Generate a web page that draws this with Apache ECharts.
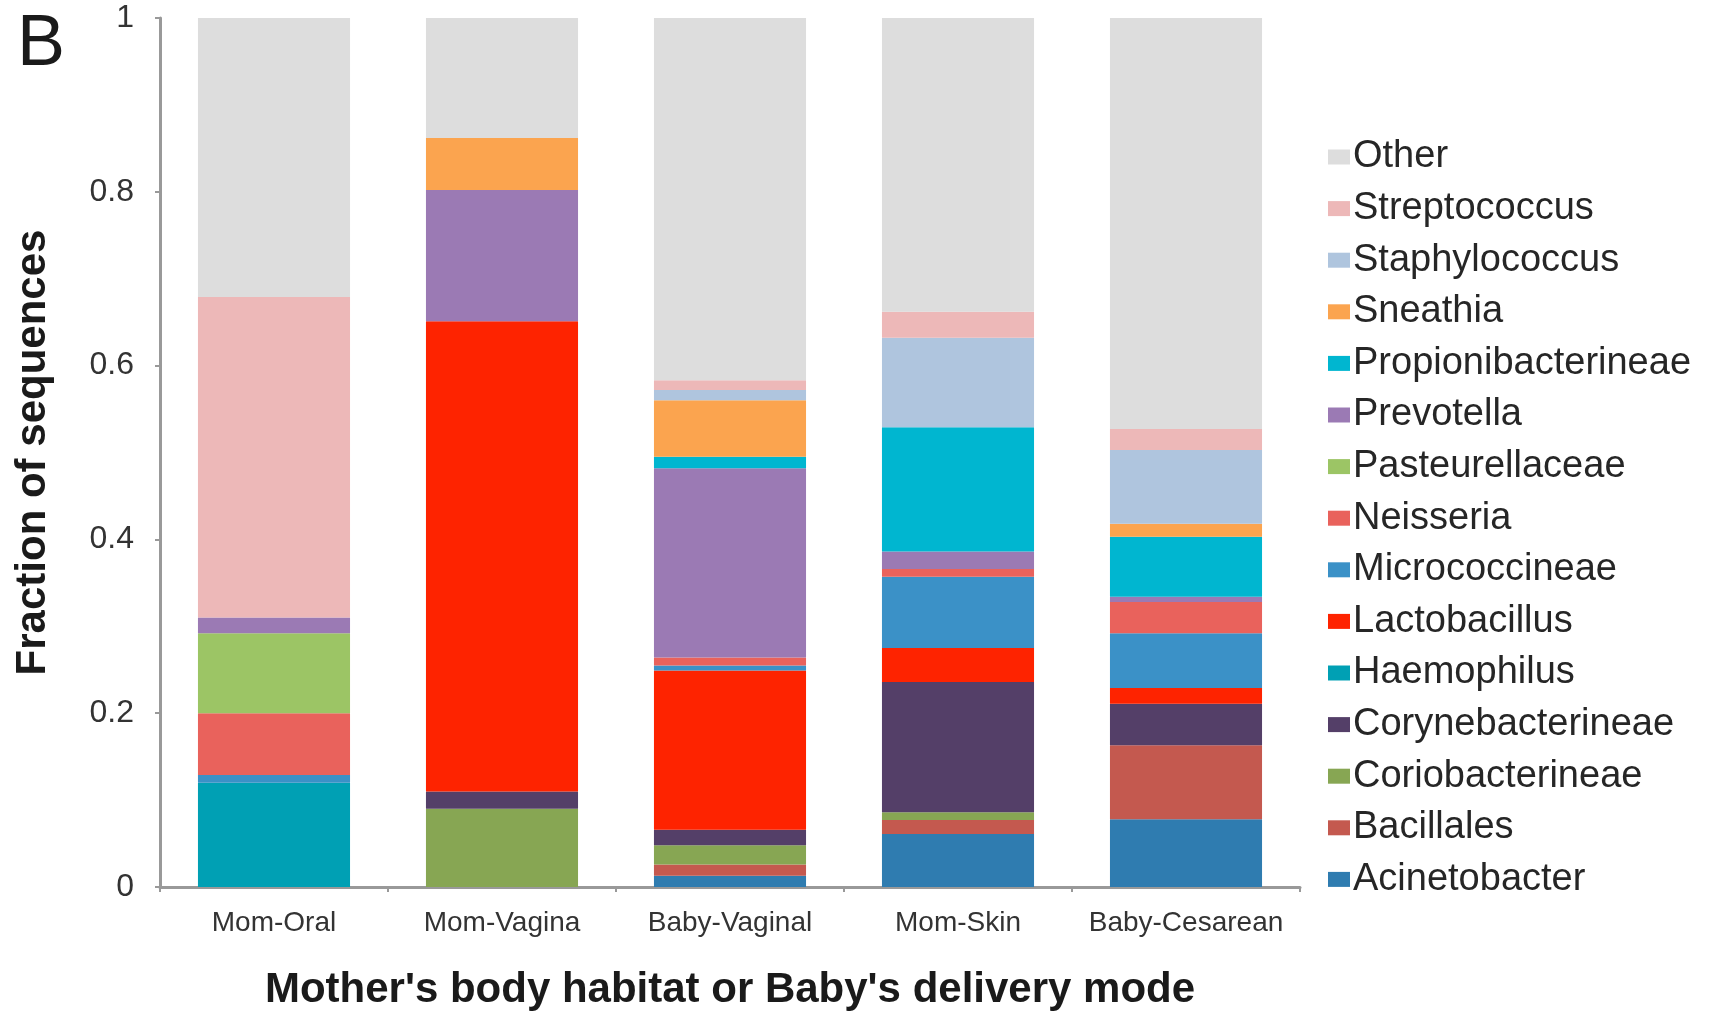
<!DOCTYPE html>
<html>
<head>
<meta charset="utf-8">
<script src="https://cdn.jsdelivr.net/npm/echarts@6/dist/echarts.min.js"></script>
<style>
  html, body { margin: 0; padding: 0; background: #fff; }
  #chart { width: 1713px; height: 1013px; }
</style>
</head>
<body>
<div id="chart"></div>
<script>
// habitats / delivery modes along x
const categories = ['Mom-Oral', 'Mom-Vagina', 'Baby-Vaginal', 'Mom-Skin', 'Baby-Cesarean'];

// fraction of sequences per taxon, one value per category
const acinetobacter = [0, 0, 0.013, 0.061, 0.078];
const bacillales = [0, 0, 0.013, 0.016, 0.085];
const coriobacterineae = [0, 0.090, 0.022, 0.009, 0];
const corynebacterineae = [0, 0.020, 0.018, 0.150, 0.048];
const haemophilus = [0.120, 0, 0, 0, 0];
const lactobacillus = [0, 0.541, 0.183, 0.039, 0.018];
const micrococcineae = [0.009, 0, 0.006, 0.082, 0.063];
const neisseria = [0.071, 0, 0.009, 0.009, 0.036];
const pasteurellaceae = [0.092, 0, 0, 0, 0];
const prevotella = [0.018, 0.151, 0.218, 0.020, 0.006];
const propionibacterineae = [0, 0, 0.013, 0.143, 0.069];
const sneathia = [0, 0.060, 0.065, 0, 0.015];
const staphylococcus = [0, 0, 0.012, 0.103, 0.085];
const streptococcus = [0.369, 0, 0.011, 0.030, 0.024];
const other = [0.321, 0.138, 0.417, 0.338, 0.473];

// stacked bottom -> top
const taxa = [
    ['Acinetobacter', acinetobacter, '#2f7cb0'],
    ['Bacillales', bacillales, '#c4594f'],
    ['Coriobacterineae', coriobacterineae, '#87a653'],
    ['Corynebacterineae', corynebacterineae, '#543f68'],
    ['Haemophilus', haemophilus, '#00a0b4'],
    ['Lactobacillus', lactobacillus, '#fe2300'],
    ['Micrococcineae', micrococcineae, '#3b91c7'],
    ['Neisseria', neisseria, '#e9625c'],
    ['Pasteurellaceae', pasteurellaceae, '#9cc565'],
    ['Prevotella', prevotella, '#9b7ab4'],
    ['Propionibacterineae', propionibacterineae, '#00b6d0'],
    ['Sneathia', sneathia, '#fba44f'],
    ['Staphylococcus', staphylococcus, '#afc5de'],
    ['Streptococcus', streptococcus, '#edb8b8'],
    ['Other', other, '#dddddd'],
];

const font = 'Liberation Sans, Arial, sans-serif';
const chart = echarts.init(document.getElementById('chart'));

chart.setOption({
    animation: false,
    title: {
        text: 'B',
        left: 12,
        top: 4,
        textStyle: { fontSize: 72, fontWeight: 'normal', color: '#1a1a1a', fontFamily: font }
    },
    legend: {
        orient: 'vertical',
        left: 1323,
        top: 131,
        itemWidth: 22,
        itemHeight: 15,
        itemGap: 9.6,
        icon: 'rect',
        data: taxa.map(t => t[0]).reverse(),
        textStyle: { fontSize: 38, lineHeight: 42, color: '#262626', fontFamily: font, padding: [0, 0, 0, -2] }
    },
    grid: {
        left: 160,
        right: 413,
        top: 18,
        bottom: 126,
        outerBoundsMode: 'none'
    },
    xAxis: {
        type: 'category',
        data: categories,
        name: "Mother's body habitat or Baby's delivery mode",
        nameLocation: 'middle',
        nameGap: 82,
        nameTextStyle: { fontSize: 42, fontWeight: 'bold', color: '#1a1a1a', fontFamily: font },
        axisLine: { lineStyle: { color: '#999', width: 3 } },
        axisTick: { show: true, length: 5, lineStyle: { color: '#999', width: 2 } },
        axisLabel: { interval: 0, fontSize: 28, color: '#333', margin: 22, fontFamily: font }
    },
    yAxis: {
        type: 'value',
        min: 0,
        max: 1,
        interval: 0.2,
        name: 'Fraction of sequences',
        nameLocation: 'middle',
        nameGap: 106,
        nameRotate: 90,
        nameTextStyle: { fontSize: 42, fontWeight: 'bold', color: '#1a1a1a', fontFamily: font },
        splitLine: { show: false },
        axisLine: { show: true, lineStyle: { color: '#999', width: 3 } },
        axisTick: { show: true, length: 5, lineStyle: { color: '#999', width: 2 } },
        axisLabel: { fontSize: 32, color: '#333', margin: 26, fontFamily: font }
    },
    series: taxa.map(t => ({
        name: t[0],
        type: 'bar',
        stack: 'total',
        data: t[1],
        barWidth: '66.7%',
        itemStyle: { color: t[2] }
    }))
});
</script>
</body>
</html>
